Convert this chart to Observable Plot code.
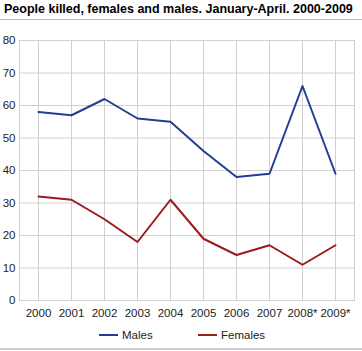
<!DOCTYPE html>
<html><head><meta charset="utf-8">
<script src="https://cdn.jsdelivr.net/npm/d3@7"></script>
<script src="https://cdn.jsdelivr.net/npm/@observablehq/plot@0.6"></script>
<style>
body{margin:0;font-family:"Liberation Sans",Arial,sans-serif;background:#fff;width:362px;}
#title{font-weight:bold;font-size:12.5px;height:19px;line-height:19px;padding-left:4px;border-bottom:1px solid #bbb;color:#000;white-space:nowrap;}
#chart svg{display:block;}
#legend{height:28px;border-bottom:2px solid #ccc;font-size:11.5px;color:#222;position:relative;}
.lg{position:absolute;top:8px;line-height:14px;display:flex;align-items:center;}
.sw{display:inline-block;width:19px;height:2px;margin-right:4px;}
</style></head>
<body>
<div id="title">People killed, females and males. January-April. 2000-2009</div>
<div id="chart"></div>
<div id="legend"></div>
<script>
const years = ["2000","2001","2002","2003","2004","2005","2006","2007","2008*","2009*"];
const males = [58,57,62,56,55,46,38,39,66,39];
const females = [32,31,25,18,31,19,14,17,11,17];
const seriesNames = ["Males","Females"];
const colors = ["#233f94","#9b1b1f"];
const yTicks = [0,10,20,30,40,50,60,70,80];

const data = [];
years.forEach((y,i)=>{
  data.push({year:y, value:males[i], series:"Males"});
  data.push({year:y, value:females[i], series:"Females"});
});

const chart = Plot.plot({
  width:362, height:300,
  marginTop:20, marginBottom:20, marginLeft:19, marginRight:8,
  style:{fontFamily:"Liberation Sans, Arial, sans-serif", fontSize:"11.5px", color:"#222", background:"#fff"},
  x:{type:"point", domain:years, padding:0.5, label:null},
  y:{domain:[0,80], ticks:yTicks, label:null},
  color:{domain:seriesNames, range:colors},
  marks:[
    Plot.gridY(yTicks,{stroke:"#d0d0d0", strokeOpacity:1, strokeWidth:1}),
    Plot.gridX(years,{stroke:"#d0d0d0", strokeOpacity:1, strokeWidth:1}),
    Plot.frame({stroke:"#d0d0d0"}),
    Plot.axisY(yTicks,{tickSize:0, tickPadding:4, label:null}),
    Plot.axisX(years,{tickSize:0, tickPadding:8, label:null}),
    Plot.line(data,{x:"year", y:"value", z:"series", stroke:"series", strokeWidth:2})
  ]
});
document.getElementById("chart").appendChild(chart);

const lg = document.getElementById("legend");
const pos = [99,198];
seriesNames.forEach((s,i)=>{
  const d = document.createElement("div");
  d.className="lg"; d.style.left=pos[i]+"px";
  d.innerHTML = `<span class="sw" style="background:${colors[i]}"></span>${s}`;
  lg.appendChild(d);
});
</script>
</body></html>
